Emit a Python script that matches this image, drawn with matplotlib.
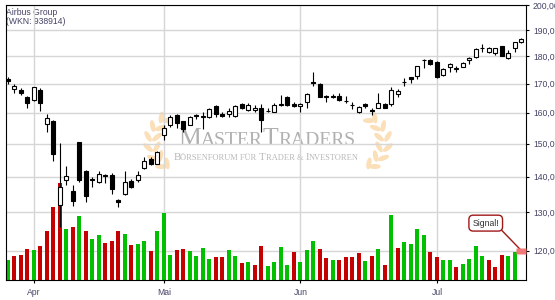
import matplotlib.pyplot as plt
import numpy as np
import pandas as pd
import matplotlib.transforms as mtransforms
from matplotlib.patches import Ellipse, Rectangle
from matplotlib.collections import PatchCollection
from matplotlib.offsetbox import TextArea, HPacker, AnnotationBbox
from matplotlib.ticker import FixedLocator, NullLocator, FuncFormatter

title = 'Airbus Group\n(WKN: 938914)'

# Xetra trading days, holidays left out
holidays = ['2025-04-18', '2025-04-21', '2025-05-01']
dates = pd.bdate_range('2025-03-26', '2025-07-18')
dates = dates[~dates.isin(pd.to_datetime(holidays))]
month_names = {4: 'Apr', 5: 'Mai', 6: 'Jun', 7: 'Jul'}

open_ = [171.6, 168.2, 167.8, 165.3, 164.4, 167.8, 156.2, 157.3, 132.0, 139.1,
         135.9, 150.4, 141.6, 139.4, 138.5, 140.6, 140.6, 133.5, 135.1, 138.9,
         139.1, 142.6, 145.3, 143.9, 152.7, 155.8, 159.2, 157.1, 156.0, 159.2,
         158.7, 158.4, 162.1, 159.7, 159.4, 158.9, 162.9, 160.8, 160.8, 161.5,
         160.5, 160.3, 162.7, 165.3, 163.0, 162.1, 163.7, 170.6, 169.8, 165.7,
         165.4, 165.6, 164.0, 162.7, 160.1, 162.8, 160.9, 161.5, 163.0, 163.0,
         166.2, 170.4, 172.3, 172.7, 178.4, 178.6, 177.9, 173.0, 175.8, 175.3,
         176.0, 178.4, 179.7, 182.9, 181.6, 181.0, 183.8, 179.2, 182.9, 185.5]
high = [172.2, 169.9, 168.3, 165.6, 168.8, 168.5, 159.6, 157.6, 150.2, 143.1,
        137.7, 150.6, 142.1, 140.0, 141.6, 140.7, 141.0, 133.6, 141.6, 139.2,
        141.6, 146.0, 145.8, 147.8, 155.9, 159.2, 159.7, 157.3, 158.9, 159.7,
        160.3, 161.7, 162.4, 160.1, 161.7, 162.7, 163.1, 163.3, 162.4, 162.9,
        161.5, 163.4, 165.9, 165.8, 163.7, 163.2, 166.8, 174.1, 170.1, 166.0,
        166.3, 166.8, 165.6, 163.7, 162.2, 163.2, 161.7, 166.8, 163.2, 168.6,
        168.2, 172.0, 172.4, 176.4, 178.9, 178.9, 178.1, 175.6, 177.3, 176.3,
        177.8, 179.6, 182.9, 184.4, 183.6, 183.1, 184.0, 182.2, 185.3, 187.0]
low = [169.7, 166.5, 165.9, 161.7, 163.8, 160.7, 153.6, 144.7, 126.2, 137.7,
       131.6, 138.6, 132.9, 137.1, 138.1, 138.2, 135.1, 131.4, 134.9, 136.7,
       138.6, 142.3, 143.6, 143.7, 151.2, 155.4, 155.1, 153.6, 155.8, 158.0,
       154.7, 158.2, 158.4, 158.5, 158.7, 158.4, 161.3, 160.6, 160.1, 153.8,
       160.1, 160.1, 162.2, 162.2, 161.8, 160.1, 161.5, 169.1, 165.2, 163.7,
       164.9, 163.9, 163.1, 161.1, 159.9, 161.5, 159.1, 161.4, 161.5, 162.3,
       165.4, 169.1, 170.1, 171.6, 175.7, 176.8, 172.0, 172.8, 174.2, 174.2,
       175.8, 176.9, 179.4, 181.6, 181.3, 180.4, 179.9, 179.0, 181.4, 185.1]
close = [170.8, 169.1, 166.5, 163.3, 168.6, 163.2, 158.2, 146.9, 136.9, 140.2,
         133.2, 139.1, 134.5, 139.0, 140.9, 140.1, 136.4, 132.7, 138.6, 136.9,
         140.6, 144.6, 143.8, 147.3, 154.9, 158.7, 156.7, 154.7, 158.6, 158.8,
         159.0, 161.2, 159.5, 158.9, 160.6, 162.3, 161.5, 162.4, 161.7, 157.4,
         160.7, 162.7, 162.9, 162.7, 162.1, 163.0, 166.3, 170.2, 165.4, 165.3,
         165.7, 164.2, 163.9, 162.5, 162.0, 162.1, 160.7, 163.2, 161.7, 167.7,
         167.2, 170.7, 171.5, 176.3, 178.6, 177.0, 172.4, 175.2, 177.0, 175.6,
         177.4, 179.4, 182.6, 183.2, 183.1, 182.9, 180.1, 181.2, 185.2, 186.4]
# volume in thousand shares, last day without volume
volume = [800, 960, 1000, 1240, 1200, 1360, 1960, 2920, 3880, 2040,
          2120, 2560, 1960, 1640, 1800, 1480, 1560, 1960, 1840, 1400,
          1440, 1560, 1160, 1960, 2680, 1000, 1200, 1240, 1160, 960,
          1280, 840, 920, 920, 1200, 960, 680, 720, 600, 1360,
          560, 720, 1320, 600, 1120, 720, 1200, 1560, 1240, 880,
          800, 800, 920, 920, 1080, 760, 960, 1240, 600, 2600,
          1280, 1520, 1440, 2040, 1800, 1120, 920, 800, 800, 520,
          640, 840, 1360, 960, 800, 520, 1000, 960, 1120, 0]
vol_up = [1, 0, 0, 0, 1, 0, 0, 0, 0, 1, 0, 1, 0, 1, 1, 0, 0, 0, 1, 0,
          1, 1, 0, 1, 1, 1, 0, 0, 1, 1, 1, 1, 0, 0, 1, 1, 0, 1, 0, 0,
          1, 1, 1, 1, 0, 1, 1, 1, 0, 0, 1, 0, 0, 0, 0, 1, 0, 1, 0, 1,
          0, 1, 1, 1, 1, 0, 0, 1, 1, 0, 1, 1, 1, 1, 0, 0, 0, 1, 1, 1]
price_ticks = [120, 130, 140, 150, 160, 170, 180, 190, 200]
signal_level = 120

o = np.array(open_)
h = np.array(high)
l = np.array(low)
c = np.array(close)
idx = np.arange(len(dates))

tick_font = dict(family='Liberation Sans', size=6.2)
txt_col = '#444466'

fig = plt.figure(figsize=(5.55, 3.0), dpi=100)

# watermark layer in pixel coordinates
wm = fig.add_axes([0, 0, 1, 1])
wm.set_xlim(0, 555)
wm.set_ylim(300, 0)
wm.axis('off')

# laurel branches left and right of the logo
leaf_col = '#fbdfb8'
for side in (-1, 1):
    cx = 268 + side * 82
    for th in np.linspace(-50, 50, 6):
        t = np.radians(th)
        px = cx + side * 34 * np.cos(t)
        py = 144 + 30 * np.sin(t)
        ang = np.degrees(np.arctan2(np.cos(t), -side * np.sin(t)))
        for off in (-1, 1):
            ex = px + side * off * 4.5 * np.cos(t)
            ey = py + off * 2 * np.sin(t) - 2
            wm.add_patch(Ellipse((ex, ey), 12, 5, angle=ang + off * side * 40,
                                 color=leaf_col, lw=0))

def small_caps(parts, big, small, col):
    boxes = [TextArea(s, textprops=dict(family='Liberation Serif',
                                        size=big if b else small, color=col))
             for s, b in parts]
    return HPacker(children=boxes, align='baseline', pad=0, sep=0)

brand = small_caps([('M', 1), ('ASTER', 0), ('T', 1), ('RADERS', 0)], 18.5, 14, '#b0b0b0')
wm.add_artist(AnnotationBbox(brand, (267, 139), frameon=False, box_alignment=(0.5, 0.5)))
sub = small_caps([('B', 1), ('ÖRSENFORUM FÜR ', 0), ('T', 1), ('RADER & ', 0),
                  ('I', 1), ('NVESTOREN', 0)], 7.8, 6.0, '#b8b8b8')
wm.add_artist(AnnotationBbox(sub, (266, 157), frameon=False, box_alignment=(0.5, 0.5)))

wm.text(6.5, 8, title, ha='left', va='top', color=txt_col, linespacing=1.05, **tick_font)

# price chart
ax = fig.add_axes([5.7 / 555, 20 / 300, 520 / 555, 275 / 300])
ax.patch.set_alpha(0)
ax.set_yscale('log')
ax.set_xlim(-0.35, 79.65)
ax.set_ylim(112.9, 200.2)

# volume bars along the bottom, height as fraction of the axes
vol_top = 11000
trans = mtransforms.blended_transform_factory(ax.transData, ax.transAxes)
rects = [Rectangle((i - 0.31, 0), 0.62, v / vol_top) for i, v in zip(idx, volume) if v > 0]
cols = ['#00c000' if u else '#c40000' for u, v in zip(vol_up, volume) if v > 0]
ax.add_collection(PatchCollection(rects, transform=trans, facecolors=cols,
                                  edgecolors='none', zorder=1.5), autolim=False)

# candles
ax.vlines(idx, l, h, color='black', lw=0.8, zorder=2.9)
body_col = np.where(c >= o, 'white', 'black')
ax.bar(idx, np.abs(c - o), bottom=np.minimum(o, c), width=0.62, color=body_col,
       edgecolor='black', lw=0.8, zorder=3)

# signal
last = idx[-1]
ax.annotate('Signal!', xy=(last, signal_level), xytext=(73.5, 127.1), textcoords='data',
            ha='center', va='center', color='#303030', zorder=5,
            bbox=dict(boxstyle='round,pad=0.4,rounding_size=0.5', fc='white', ec='#a01818', lw=1),
            arrowprops=dict(arrowstyle='-', color='#a01818', lw=1, shrinkA=0, shrinkB=0,
                            relpos=(1, 0)), **tick_font)
ax.plot([last], [signal_level], marker=[(-1, -0.53), (1, -0.53), (1, 0.53), (-1, 0.53)],
        ms=6.8, color='#f07878', mec='none', ls='none', clip_on=False, zorder=6)

# axes styling
month_first = [i for i in range(1, len(dates)) if dates[i].month != dates[i - 1].month]
ax.xaxis.set_major_locator(FixedLocator(month_first))
ax.set_xticklabels([month_names[dates[i].month] for i in month_first])
ax.yaxis.set_major_locator(FixedLocator(price_ticks))
ax.yaxis.set_minor_locator(NullLocator())
ax.yaxis.set_major_formatter(FuncFormatter(lambda v, p: f'{v:.2f}'.replace('.', ',')))
ax.yaxis.tick_right()
ax.tick_params(axis='both', length=2.3, width=0.8, color='black', labelcolor=txt_col)
ax.tick_params(axis='x', pad=3.6)
ax.tick_params(axis='y', pad=3)
for lab in ax.get_xticklabels() + ax.get_yticklabels():
    lab.set_fontfamily(tick_font['family'])
    lab.set_fontsize(tick_font['size'])
for s in ax.spines.values():
    s.set_color('black')
    s.set_linewidth(0.8)
ax.grid(True, color='#d6d6d6', lw=1.0)
ax.set_axisbelow(True)

plt.savefig('out.png', dpi=100)
